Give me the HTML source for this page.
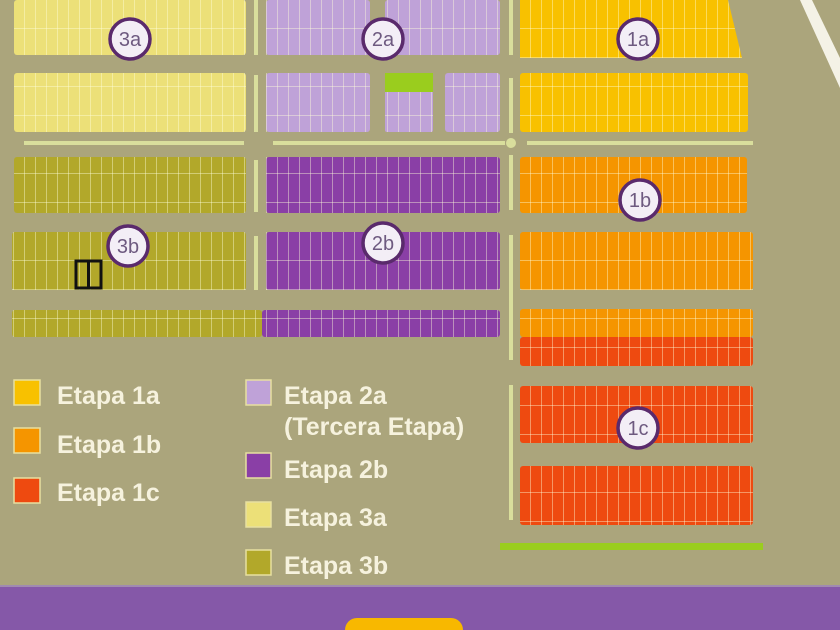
<!DOCTYPE html>
<html><head><meta charset="utf-8"><style>
html,body{margin:0;padding:0;width:840px;height:630px;overflow:hidden;background:#aba57c}
svg{display:block}
text{font-family:"Liberation Sans","DejaVu Sans",sans-serif}
</style></head><body>
<svg width="840" height="630" viewBox="0 0 840 630" xmlns="http://www.w3.org/2000/svg">
<defs>
<pattern id="g" x="14" y="0" width="11" height="29" patternUnits="userSpaceOnUse">
<rect x="10" y="0" width="1" height="29" fill="rgba(255,255,220,0.42)"/>
<rect x="0" y="28" width="11" height="1" fill="rgba(255,255,220,0.42)"/>
</pattern>
</defs>
<rect width="840" height="630" fill="#aba57c"/>
<polygon points="800,0 812,0 840,58 840,88" fill="#f4f2e6"/>
<g fill="#d9de9c">
<rect x="254" y="0" width="4" height="55"/><rect x="254" y="75" width="4" height="57"/>
<rect x="254" y="160" width="4" height="52"/><rect x="254" y="236" width="4" height="54"/>
<rect x="509" y="0" width="4" height="55"/><rect x="509" y="78" width="4" height="55"/>
<rect x="509" y="155" width="4" height="55"/><rect x="509" y="235" width="4" height="125"/>
<rect x="509" y="385" width="4" height="135"/>
<rect x="24" y="141" width="220" height="4"/><rect x="273" y="141" width="232" height="4"/><rect x="527" y="141" width="226" height="4"/>
<circle cx="511" cy="143" r="5"/>
</g>
<g>
<rect x="14" y="0" width="232" height="55" rx="3" fill="#ece078"/>
<rect x="14" y="73" width="232" height="59" rx="3" fill="#ece078"/>
<rect x="266" y="0" width="104" height="55" rx="3" fill="#bfa2d8"/>
<rect x="385" y="0" width="115" height="55" rx="3" fill="#bfa2d8"/>
<rect x="266" y="73" width="104" height="59" rx="3" fill="#bfa2d8"/>
<rect x="385" y="73" width="48" height="59" rx="2" fill="#bfa2d8"/>
<rect x="445" y="73" width="55" height="59" rx="3" fill="#bfa2d8"/>
<polygon points="520,0 728,0 742,58 520,58" fill="#f8c100"/>
<rect x="520" y="73" width="228" height="59" rx="3" fill="#f8c100"/>
<rect x="14" y="157" width="232" height="56" rx="3" fill="#b2a82a"/>
<rect x="266" y="157" width="234" height="56" rx="3" fill="#8a3fa6"/>
<rect x="520" y="157" width="227" height="56" rx="3" fill="#f59500"/>
<rect x="12" y="232" width="234" height="58" rx="3" fill="#b2a82a"/>
<rect x="266" y="232" width="234" height="58" rx="3" fill="#8a3fa6"/>
<rect x="520" y="232" width="233" height="58" rx="3" fill="#f59500"/>
<rect x="12" y="310" width="250" height="27" rx="3" fill="#b2a82a"/>
<rect x="262" y="310" width="238" height="27" rx="3" fill="#8a3fa6"/>
<rect x="520" y="309" width="233" height="28" rx="3" fill="#f59500"/>
<rect x="520" y="337" width="233" height="29" rx="3" fill="#ee4a10"/>
<rect x="520" y="386" width="233" height="57" rx="3" fill="#ee4a10"/>
<rect x="520" y="466" width="233" height="59" rx="3" fill="#ee4a10"/>
</g>
<g fill="url(#g)">
<rect x="14" y="0" width="232" height="55"/>
<rect x="14" y="73" width="232" height="59"/>
<rect x="266" y="0" width="104" height="55"/><rect x="385" y="0" width="115" height="55"/>
<rect x="266" y="73" width="104" height="59"/><rect x="385" y="73" width="48" height="59"/><rect x="445" y="73" width="55" height="59"/>
<polygon points="520,0 728,0 742,58 520,58"/>
<rect x="520" y="73" width="228" height="59"/>
<rect x="14" y="157" width="232" height="56"/><rect x="266" y="157" width="234" height="56"/><rect x="520" y="157" width="227" height="56"/>
<rect x="12" y="232" width="234" height="58"/><rect x="266" y="232" width="234" height="58"/><rect x="520" y="232" width="233" height="58"/>
<rect x="12" y="310" width="488" height="27"/>
<rect x="520" y="309" width="233" height="57"/>
<rect x="520" y="386" width="233" height="57"/><rect x="520" y="466" width="233" height="59"/>
</g>
<rect x="385" y="73" width="48" height="19" fill="#9acd1e"/>
<rect x="76" y="261" width="25" height="27" fill="none" stroke="#111" stroke-width="3"/>
<line x1="88.5" y1="261" x2="88.5" y2="288" stroke="#111" stroke-width="3"/>
<rect x="500" y="543" width="263" height="7" fill="#9acd1e"/>
<g font-size="20" text-anchor="middle" fill="#6e5a80">
<g stroke="#5a2a6c" stroke-width="3.5" fill="#f3eef6">
<circle cx="130" cy="39" r="20"/><circle cx="383" cy="39" r="20"/><circle cx="638" cy="39" r="20"/>
<circle cx="640" cy="200" r="20"/><circle cx="128" cy="246" r="20"/><circle cx="383" cy="243" r="20"/>
<circle cx="638" cy="428" r="20"/>
</g>
<text x="130" y="46">3a</text><text x="383" y="46">2a</text><text x="638" y="46">1a</text>
<text x="640" y="207">1b</text><text x="128" y="253">3b</text><text x="383" y="250">2b</text><text x="638" y="435">1c</text>
</g>
<g stroke="#e8e0a0" stroke-width="1.5">
<rect x="14" y="380" width="26" height="25" fill="#f8c100"/>
<rect x="14" y="428" width="26" height="25" fill="#f59500"/>
<rect x="14" y="478" width="26" height="25" fill="#ee4a10"/>
<rect x="246" y="380" width="25" height="25" fill="#bfa2d8"/>
<rect x="246" y="453" width="25" height="25" fill="#8a3fa6"/>
<rect x="246" y="502" width="25" height="25" fill="#ece078"/>
<rect x="246" y="550" width="25" height="25" fill="#b2a82a"/>
</g>
<g font-size="25" font-weight="bold" fill="#f6f2de">
<text x="57" y="404">Etapa 1a</text>
<text x="57" y="453">Etapa 1b</text>
<text x="57" y="501">Etapa 1c</text>
<text x="284" y="404">Etapa 2a</text>
<text x="284" y="435">(Tercera Etapa)</text>
<text x="284" y="478">Etapa 2b</text>
<text x="284" y="526">Etapa 3a</text>
<text x="284" y="574">Etapa 3b</text>
</g>
<rect x="0" y="585" width="840" height="45" fill="#8558a8"/>
<rect x="0" y="585" width="840" height="2" fill="#a08ab0"/>
<rect x="345" y="618" width="118" height="30" rx="12" fill="#f8b800"/>
</svg>
</body></html>
